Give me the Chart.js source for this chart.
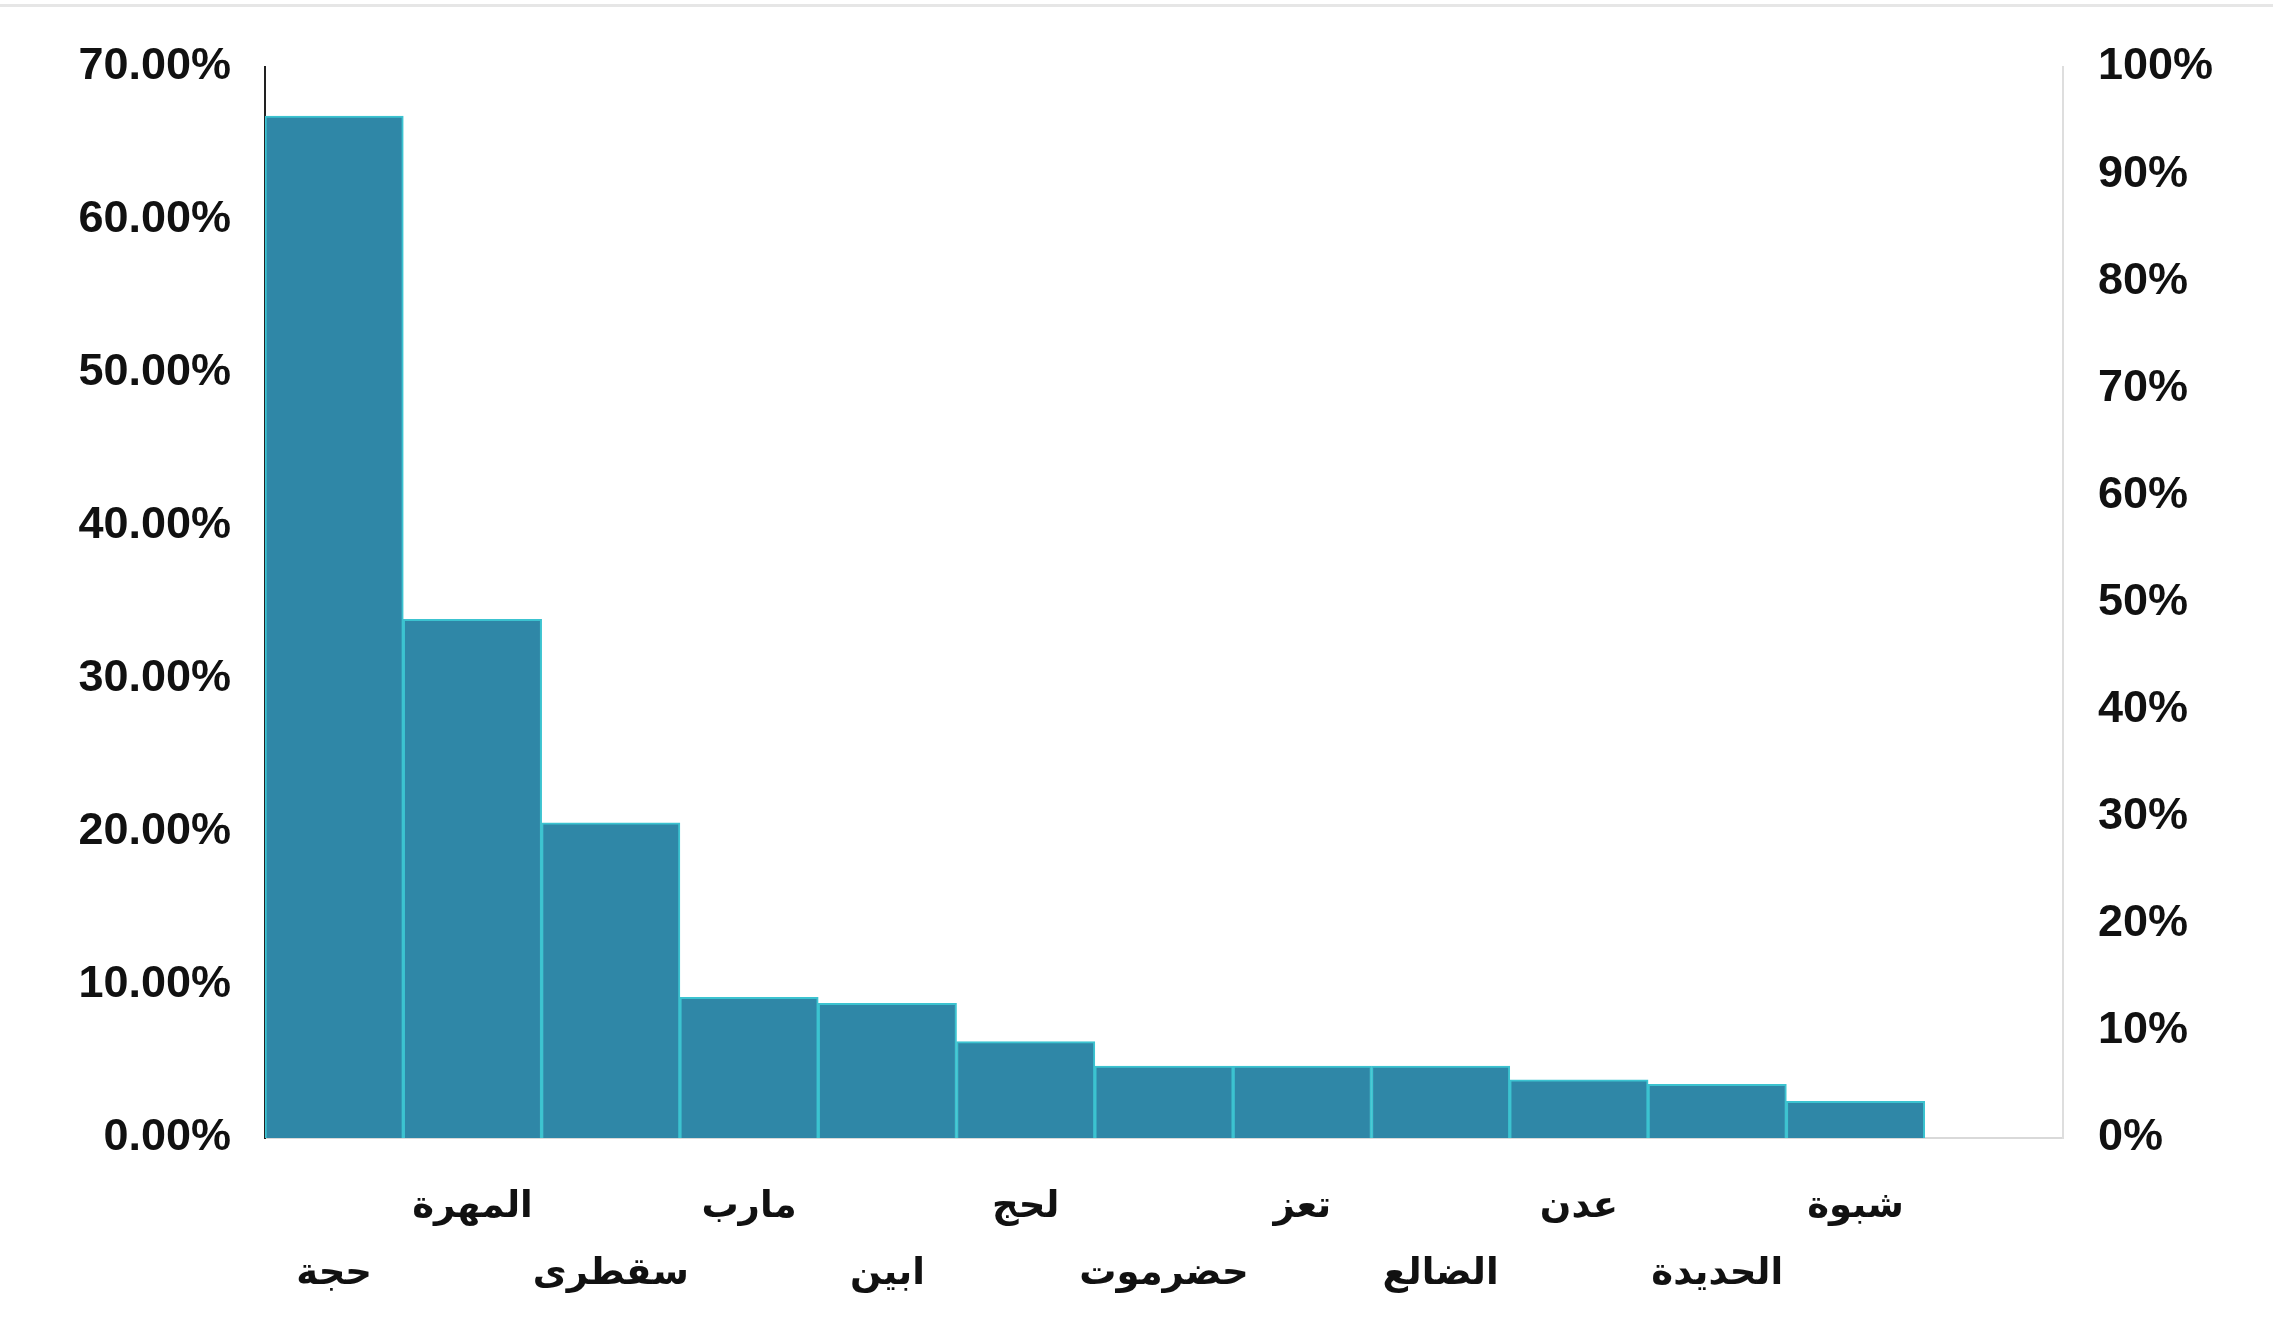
<!DOCTYPE html>
<html>
<head>
<meta charset="utf-8">
<script src="https://cdn.jsdelivr.net/npm/chart.js@4"></script>
<style>
	html, body { margin: 0; padding: 0; background: #fff; }
	#wrap { width: 2273px; height: 1321px; position: relative; }
	#wrap:before { content: ""; position: absolute; left: 0; right: 0; top: 4px; height: 3px; background: #e6e6e6; }
</style>
</head>
<body>
<div id="wrap"><canvas id="myChart" width="2273" height="1321"></canvas></div>
<script>
// governorates, sorted by share (last slot is empty in the original)
const governorates = ["حجة", "المهرة", "سقطرى", "مارب", "ابين", "لحج", "حضرموت", "تعز", "الضالع", "عدن", "الحديدة", "شبوة", ""];
// share in percent
const shares = [66.8, 33.9, 20.6, 9.2, 8.8, 6.3, 4.7, 4.7, 4.7, 3.8, 3.5, 2.4, null];
// right axis ticks (cumulative %)
const rightTicks = [0, 10, 20, 30, 40, 50, 60, 70, 80, 90, 100];

const tickFont = { family: "'Liberation Sans', Arial, sans-serif", size: 45, weight: "bold" };
const labelFont = { family: "'DejaVu Sans', 'Liberation Sans', sans-serif", size: 37, weight: "bold", lineHeight: 1.8 };

const chart = new Chart(document.getElementById("myChart"), {
	type: "bar",
	data: {
		labels: governorates,
		datasets: [{
			data: shares,
			backgroundColor: "#2f87a7",
			borderColor: "#3cc3d0",
			borderWidth: 2,
			categoryPercentage: 1,
			barPercentage: 1,
			yAxisID: "y"
		}]
	},
	options: {
		responsive: false,
		animation: false,
		layout: { padding: { top: 67, right: 0, bottom: 0, left: 0 } },
		plugins: { legend: { display: false }, tooltip: { enabled: false } },
		scales: {
			x: {
				grid: { display: false, drawTicks: false },
				border: { color: "#d9d9d9", width: 2 },
				ticks: {
					autoSkip: false,
					maxRotation: 0,
					minRotation: 0,
					padding: 36,
					color: "#111",
					font: labelFont,
					// alternate labels between two rows
					callback: function(value, index) {
						const name = governorates[index];
						return index % 2 === 0 ? ["", name] : [name, ""];
					}
				},
				afterFit: function(scale) { scale.height = 183; }
			},
			y: {
				position: "left",
				min: 0,
				max: 70,
				grid: { display: false, drawTicks: false },
				border: { color: "#222", width: 2 },
				ticks: {
					stepSize: 10,
					padding: 34,
					color: "#111",
					font: tickFont,
					callback: v => v.toFixed(2) + "%"
				},
				afterFit: function(scale) { scale.width = 265; }
			},
			y2: {
				position: "right",
				min: 0,
				max: 100,
				grid: { display: false, drawTicks: false },
				border: { color: "#dedede", width: 2 },
				ticks: {
					stepSize: 10,
					padding: 35,
					color: "#111",
					font: tickFont,
					callback: v => rightTicks.includes(v) ? v + "%" : ""
				},
				afterFit: function(scale) { scale.width = 210; }
			}
		}
	}
});
</script>
</body>
</html>
